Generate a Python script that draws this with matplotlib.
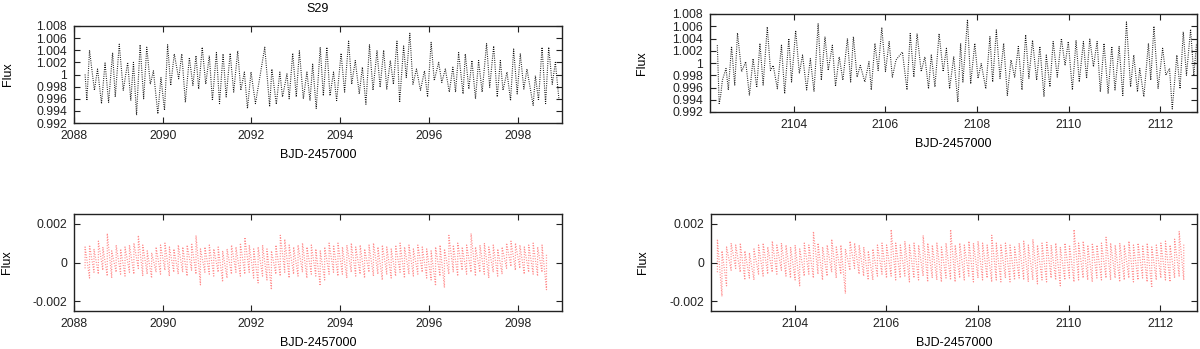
import numpy as np
import matplotlib
matplotlib.use('Agg')
import matplotlib.pyplot as plt
from matplotlib.ticker import FuncFormatter

# ---------------- data ----------------
TITLE = 'S29'
XLABEL = 'BJD-2457000'
YLABEL = 'Flux'

# light curve, first orbit: successive extrema (time, flux)
LC1_T = [2088.25, 2088.29, 2088.35, 2088.46, 2088.53, 2088.62, 2088.70, 2088.78, 2088.87, 2088.93,
         2089.02, 2089.11, 2089.21, 2089.28, 2089.34, 2089.41, 2089.49, 2089.57, 2089.64, 2089.72,
         2089.79, 2089.89, 2089.96, 2090.04, 2090.11, 2090.18, 2090.26, 2090.36, 2090.43, 2090.51,
         2090.60, 2090.68, 2090.75, 2090.81, 2090.89, 2090.97, 2091.05, 2091.12, 2091.21, 2091.28,
         2091.36, 2091.43, 2091.52, 2091.60, 2091.69, 2091.76, 2091.84, 2091.91, 2091.99, 2092.09,
         2092.30, 2092.41, 2092.46, 2092.56, 2092.64, 2092.70, 2092.80, 2092.85, 2092.93, 2093.01,
         2093.08, 2093.17, 2093.25, 2093.32, 2093.38, 2093.46, 2093.55, 2093.62, 2093.70, 2093.77,
         2093.85, 2093.92, 2094.02, 2094.10, 2094.19, 2094.26, 2094.34, 2094.43, 2094.50, 2094.58,
         2094.66, 2094.74, 2094.83, 2094.90, 2094.98, 2095.05, 2095.13, 2095.20, 2095.28, 2095.34,
         2095.43, 2095.49, 2095.57, 2095.64, 2095.72, 2095.81, 2095.90, 2095.97, 2096.05, 2096.12,
         2096.22, 2096.29, 2096.37, 2096.46, 2096.54, 2096.60, 2096.67, 2096.77, 2096.82, 2096.90,
         2096.97, 2097.05, 2097.12, 2097.20, 2097.30, 2097.37, 2097.46, 2097.54, 2097.61, 2097.67,
         2097.76, 2097.84, 2097.91, 2097.99, 2098.06, 2098.14, 2098.21, 2098.35, 2098.40, 2098.47,
         2098.55, 2098.63, 2098.70, 2098.78, 2098.85, 2098.93]
LC1_F = [1.0000, 0.9957, 1.0040, 0.9974, 1.0009, 0.9952, 1.0019, 0.9954, 1.0036, 0.9963,
         1.0050, 0.9974, 1.0020, 0.9957, 1.0020, 0.9933, 1.0049, 0.9960, 1.0045, 0.9984,
         1.0006, 0.9935, 0.9995, 0.9941, 1.0049, 0.9982, 1.0034, 0.9993, 1.0034, 0.9954,
         1.0028, 0.9982, 1.0031, 0.9976, 1.0045, 0.9984, 1.0031, 0.9957, 1.0036, 0.9952,
         1.0034, 0.9963, 1.0035, 0.9971, 1.0039, 0.9974, 1.0004, 0.9944, 1.0004, 0.9952,
         1.0045, 0.9947, 1.0009, 0.9951, 1.0004, 0.9963, 1.0001, 0.9960, 1.0035, 0.9963,
         1.0039, 0.9960, 1.0004, 0.9957, 1.0017, 0.9944, 1.0045, 0.9965, 1.0045, 0.9965,
         1.0004, 0.9957, 1.0035, 0.9971, 1.0055, 0.9984, 1.0023, 0.9968, 1.0012, 0.9951,
         1.0049, 0.9974, 1.0039, 0.9979, 1.0040, 0.9976, 1.0023, 0.9984, 1.0055, 0.9954,
         1.0047, 0.9995, 1.0068, 0.9984, 1.0009, 0.9974, 1.0006, 0.9963, 1.0053, 0.9990,
         1.0020, 0.9987, 1.0009, 0.9971, 1.0012, 0.9971, 1.0036, 0.9968, 1.0034, 0.9976,
         1.0023, 0.9960, 1.0023, 0.9971, 1.0051, 0.9979, 1.0047, 0.9963, 1.0023, 0.9974,
         1.0004, 0.9957, 1.0042, 0.9968, 1.0034, 0.9976, 1.0009, 0.9949, 0.9998, 0.9957,
         1.0045, 0.9952, 1.0045, 0.9984, 1.0020, 0.9960]

# light curve, second orbit: successive extrema (time, flux)
LC2_T = [2102.33, 2102.37, 2102.40, 2102.44, 2102.52, 2102.57, 2102.64, 2102.71, 2102.77, 2102.86,
         2102.95, 2103.03, 2103.11, 2103.19, 2103.26, 2103.33, 2103.42, 2103.49, 2103.55, 2103.64,
         2103.73, 2103.80, 2103.89, 2103.95, 2104.04, 2104.12, 2104.19, 2104.28, 2104.36, 2104.44,
         2104.53, 2104.60, 2104.68, 2104.75, 2104.84, 2104.91, 2104.99, 2105.07, 2105.17, 2105.24,
         2105.30, 2105.38, 2105.45, 2105.55, 2105.64, 2105.69, 2105.77, 2105.84, 2105.92, 2106.00,
         2106.08, 2106.15, 2106.23, 2106.37, 2106.47, 2106.54, 2106.62, 2106.69, 2106.78, 2106.86,
         2106.94, 2107.00, 2107.08, 2107.17, 2107.26, 2107.33, 2107.40, 2107.49, 2107.58, 2107.64,
         2107.69, 2107.79, 2107.86, 2107.95, 2108.02, 2108.09, 2108.19, 2108.28, 2108.34, 2108.42,
         2108.50, 2108.58, 2108.66, 2108.74, 2108.82, 2108.90, 2108.98, 2109.06, 2109.13, 2109.21,
         2109.30, 2109.37, 2109.46, 2109.51, 2109.59, 2109.66, 2109.75, 2109.84, 2109.92, 2109.99,
         2110.08, 2110.16, 2110.23, 2110.32, 2110.39, 2110.46, 2110.54, 2110.62, 2110.69, 2110.77,
         2110.86, 2110.94, 2111.01, 2111.10, 2111.18, 2111.26, 2111.35, 2111.42, 2111.50, 2111.55,
         2111.64, 2111.74, 2111.79, 2111.86, 2111.95, 2112.05, 2112.12, 2112.20, 2112.26, 2112.36,
         2112.43, 2112.50, 2112.57, 2112.66, 2112.73, 2112.79]
LC2_F = [1.0029, 0.9934, 0.9945, 0.9972, 0.9991, 0.9956, 1.0027, 0.9964, 1.0049, 0.9986,
         1.0002, 0.9947, 1.0007, 0.9960, 1.0032, 0.9964, 1.0059, 0.9988, 0.9996, 0.9958,
         1.0029, 0.9950, 1.0040, 0.9969, 1.0053, 0.9983, 1.0013, 0.9956, 1.0007, 0.9954,
         1.0064, 0.9972, 1.0043, 0.9988, 1.0029, 0.9962, 1.0010, 0.9972, 1.0040, 0.9969,
         1.0043, 0.9977, 0.9996, 0.9969, 1.0002, 0.9956, 1.0032, 0.9988, 1.0058, 0.9986,
         1.0035, 0.9977, 1.0005, 1.0018, 0.9956, 1.0048, 0.9977, 1.0048, 0.9986, 1.0010,
         0.9958, 1.0013, 0.9961, 1.0048, 0.9986, 1.0024, 0.9958, 1.0010, 0.9936, 1.0032,
         0.9969, 1.0071, 0.9966, 1.0032, 0.9975, 0.9999, 0.9958, 1.0043, 0.9969, 1.0054,
         0.9975, 1.0032, 0.9947, 1.0005, 0.9977, 1.0027, 0.9956, 1.0046, 0.9975, 1.0037,
         0.9972, 1.0027, 0.9945, 1.0013, 0.9961, 1.0035, 0.9977, 1.0040, 0.9996, 1.0035,
         0.9956, 1.0037, 0.9969, 1.0035, 0.9975, 1.0039, 0.9994, 1.0035, 0.9953, 1.0032,
         0.9950, 1.0027, 0.9956, 1.0027, 0.9947, 1.0067, 0.9961, 1.0013, 0.9953, 0.9991,
         0.9945, 1.0032, 0.9972, 1.0060, 0.9958, 1.0024, 0.9980, 0.9991, 0.9925, 1.0013,
         0.9958, 1.0051, 0.9980, 1.0055, 0.9980, 1.0032]

# residuals (parts per thousand): local upper / lower envelope per 0.1-day bin
RES_BIN = 0.1
RES1_T0 = 2088.25
RES1_HI = [0.8, 0.9, 0.7, 1.1, 0.8, 1.5, 0.6, 0.9, 0.7, 0.8, 0.9, 1.0, 1.4, 0.9, 0.6, 0.5,
           0.8, 0.9, 1.0, 0.8, 0.7, 0.9, 0.8, 0.9, 1.0, 1.4, 0.7, 0.8, 0.9, 0.7, 0.8, 0.6,
           0.7, 0.9, 0.8, 1.0, 1.3, 0.9, 0.7, 0.8, 0.9, 0.7, 0.6, 0.9, 1.4, 1.2, 0.9, 0.8,
           0.9, 1.0, 0.8, 0.9, 0.7, 0.6, 0.8, 1.0, 0.9, 1.0, 0.8, 0.9, 1.0, 0.8, 0.9, 0.7,
           0.9, 1.0, 0.8, 0.9, 0.8, 0.7, 0.9, 1.0, 0.8, 0.9, 0.7, 0.9, 0.8, 0.7, 0.6, 0.8,
           0.9, 0.7, 1.4, 0.9, 1.0, 0.8, 0.9, 1.5, 0.8, 0.9, 1.0, 0.8, 0.9, 0.7, 0.8, 1.0,
           1.1, 1.0, 0.9, 0.8, 0.9, 1.0, 0.8, 0.9, 0.4]
RES1_LO = [-0.3, -0.8, -0.5, -0.6, -0.4, -0.7, -0.8, -0.5, -0.6, -0.7, -0.5, -0.6, -0.3, -0.7, -0.6, -0.8,
           -0.5, -0.6, -0.4, -0.7, -0.5, -0.6, -0.5, -0.7, -0.4, -0.6, -1.15, -0.5, -0.6, -0.7, -0.5, -1.0,
           -0.8, -0.6, -0.5, -0.7, -0.6, -0.5, -0.8, -1.05, -0.7, -0.9, -1.4, -0.6, -0.7, -0.5, -0.8, -0.6,
           -0.7, -0.5, -0.8, -0.6, -0.7, -1.2, -0.9, -0.6, -0.5, -0.7, -0.6, -0.8, -0.5, -0.7, -0.6, -0.8,
           -0.5, -0.7, -0.6, -0.9, -0.6, -0.8, -0.7, -0.5, -0.8, -0.6, -0.7, -0.6, -0.5, -0.8, -0.9, -1.2,
           -0.7, -1.3, -0.6, -0.5, -0.7, -0.4, -0.6, -0.5, -0.7, -0.5, -0.6, -0.8, -0.5, -0.7, -0.6, -0.3,
           -0.2, -0.4, -0.3, -0.6, -0.5, -0.6, -0.7, -0.5, -1.4]
RES2_T0 = 2102.31
RES2_HI = [1.2, 0.6, 0.8, 1.0, 0.9, 1.0, 0.6, 0.5, 0.7, 0.9, 1.0, 0.8, 1.1, 0.9, 1.0, 0.9,
           0.8, 0.9, 0.7, 1.0, 0.9, 1.6, 1.0, 0.8, 0.9, 1.2, 0.8, 0.9, 0.7, 1.1, 1.0, 0.9,
           0.8, 0.6, 0.7, 0.9, 1.0, 0.9, 1.7, 1.0, 0.9, 1.1, 0.9, 1.0, 0.9, 1.4, 1.0, 0.9,
           1.0, 0.8, 1.0, 1.7, 0.9, 1.0, 0.9, 1.1, 1.0, 1.1, 1.0, 0.9, 1.4, 1.0, 0.9, 1.0,
           0.9, 0.8, 1.0, 1.1, 0.9, 1.2, 0.9, 1.0, 1.1, 0.9, 1.0, 0.8, 1.0, 0.9, 1.7, 1.0,
           1.1, 0.9, 1.0, 0.9, 1.0, 1.3, 1.0, 0.9, 1.0, 0.9, 1.1, 0.9, 1.0, 0.9, 1.0, 0.8,
           0.9, 1.0, 1.1, 0.9, 1.2, 1.6, 1.0]
RES2_LO = [-0.5, -1.75, -1.2, -0.4, -0.3, -0.5, -0.9, -0.8, -0.9, -0.6, -0.7, -0.6, -0.5, -0.6, -0.4, -0.7,
           -0.8, -0.9, -1.2, -0.7, -0.6, -0.8, -0.6, -0.9, -0.7, -0.5, -0.8, -0.6, -1.6, -0.4, -0.3, -0.6,
           -0.7, -0.9, -0.9, -0.7, -0.6, -0.8, -0.7, -0.9, -0.8, -0.7, -1.0, -0.8, -0.9, -0.7, -1.0, -0.8,
           -0.9, -1.0, -0.8, -0.9, -1.0, -0.8, -0.9, -0.7, -1.0, -0.8, -0.9, -0.8, -1.0, -0.9, -1.0, -0.8,
           -1.0, -0.9, -0.8, -0.9, -1.0, -0.9, -1.1, -0.9, -1.0, -0.8, -0.9, -1.2, -0.9, -0.8, -1.0, -0.9,
           -0.8, -0.9, -1.0, -0.8, -0.9, -0.8, -0.9, -0.8, -1.0, -0.9, -0.8, -1.0, -0.9, -0.8, -1.0, -1.3,
           -0.9, -0.8, -0.9, -1.0, -0.8, -0.7, -0.9]

TOP_YTICKS = [0.992, 0.994, 0.996, 0.998, 1.000, 1.002, 1.004, 1.006, 1.008]
BOT_YTICKS = [-0.002, 0.0, 0.002]
LEFT_XTICKS = [2088, 2090, 2092, 2094, 2096, 2098]
RIGHT_XTICKS = [2104, 2106, 2108, 2110, 2112]

# ---------------- figure ----------------
plt.rcParams['font.family'] = ['Liberation Sans', 'DejaVu Sans']
W, H = 1200, 349
fig = plt.figure(figsize=(W / 100, H / 100), dpi=100)


def box(x0, y0, x1, y1):
    return [x0 / W, 1 - y1 / H, (x1 - x0) / W, (y1 - y0) / H]


ax1 = fig.add_axes(box(74, 26, 562, 123))
ax2 = fig.add_axes(box(710, 14, 1197, 112))
ax3 = fig.add_axes(box(74, 214, 562, 311))
ax4 = fig.add_axes(box(711, 214, 1197, 311))

fmt = FuncFormatter(lambda v, p: '%g' % round(v, 6))

for ax in (ax1, ax2, ax3, ax4):
    ax.tick_params(direction='in', top=True, right=True, length=4, width=0.8,
                   labelsize=8.7, pad=5, colors='#222222')
    ax.yaxis.set_major_formatter(fmt)
    for s in ax.spines.values():
        s.set_linewidth(1.0)
        s.set_color('#222222')

# light curves
ax1.plot(LC1_T, LC1_F, color='#111111', lw=0.8, linestyle=(0, (0.8, 1.2)))
ax2.plot(LC2_T, LC2_F, color='#111111', lw=0.8, linestyle=(0, (0.8, 1.2)))
for ax, xt, xl in ((ax1, LEFT_XTICKS, (2088, 2099)), (ax2, RIGHT_XTICKS, (2102.17, 2112.8))):
    ax.set_xlim(*xl)
    ax.set_ylim(0.992, 1.008)
    ax.set_xticks(xt)
    ax.set_yticks(TOP_YTICKS)

# residuals: each bin's low->high streak, joined into one dotted trace
for ax, t0, hi, lo in ((ax3, RES1_T0, RES1_HI, RES1_LO), (ax4, RES2_T0, RES2_HI, RES2_LO)):
    hi = np.array(hi) * 1e-3
    lo = np.array(lo) * 1e-3
    t = t0 + RES_BIN * np.arange(len(hi))
    tt = np.repeat(t, 2)
    yy = np.column_stack([lo, hi]).ravel()
    ax.plot(tt, yy, color='#ff0000', lw=0.9, alpha=0.45, linestyle=(0, (0.8, 1.3)))
ax3.set_xlim(2088, 2099)
ax4.set_xlim(2102.17, 2112.8)
for ax, xt in ((ax3, LEFT_XTICKS), (ax4, RIGHT_XTICKS)):
    ax.set_ylim(-0.0025, 0.0025)
    ax.set_xticks(xt)
    ax.set_yticks(BOT_YTICKS)

# labels
for ax, lx in ((ax1, -0.122), (ax2, -0.128), (ax3, -0.126), (ax4, -0.128)):
    ax.set_ylabel(YLABEL, fontsize=9)
    ax.yaxis.set_label_coords(lx, 0.5)
    ax.set_xlabel(XLABEL, fontsize=9)
    ax.xaxis.set_label_coords(0.5, -0.27)

ax1.set_title(TITLE, fontsize=9, pad=10)

fig.savefig('out.png', dpi=100)
